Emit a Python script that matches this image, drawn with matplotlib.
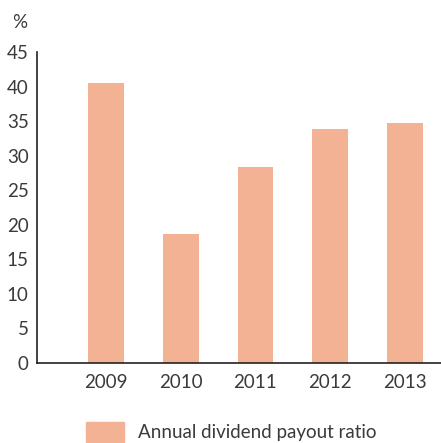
import matplotlib.pyplot as plt
import matplotlib.patches as mpatches

# Data
years = ["2009", "2010", "2011", "2012", "2013"]
payout = [40.5, 18.7, 28.4, 33.9, 34.7]

bar_color = "#F3B294"
text_color = "#3a3a3a"

plt.rcParams['font.family'] = ['Lato', 'DejaVu Sans']

fig = plt.figure(figsize=(4.41, 4.43), dpi=100)
ax = fig.add_axes([37 / 441, 1 - 363 / 443, 404 / 441, 311 / 443])

x = list(range(len(years)))
ax.bar(x, payout, width=0.48, color=bar_color, zorder=2)

ax.set_xlim(-0.92, 4.48)
ax.set_ylim(0, 45)
ax.set_yticks(range(0, 46, 5))
ax.set_xticks(x)
ax.set_xticklabels(years)

for side in ["top", "right"]:
    ax.spines[side].set_visible(False)
for side in ["left", "bottom"]:
    ax.spines[side].set_color("#222222")
    ax.spines[side].set_linewidth(1.2)

ax.tick_params(axis="y", length=0, pad=6, labelsize=13.5, labelcolor=text_color)
ax.tick_params(axis="x", length=0, pad=8, labelsize=13.5, labelcolor=text_color)

fig.text(20 / 441, 1 - 22 / 443, "%", fontsize=13.5, color=text_color,
         ha="center", va="center")

# legend
handle = mpatches.Patch(color=bar_color, label="Annual dividend payout ratio")
fig.legend(handles=[handle], loc="center left",
           bbox_to_anchor=(86 / 441, 1 - 432 / 443), frameon=False,
           fontsize=13.5, handlelength=2.05, handleheight=1.25,
           handletextpad=0.7, borderpad=0, borderaxespad=0,
           labelcolor=text_color)

fig.savefig("out.png", dpi=100, facecolor="white")
